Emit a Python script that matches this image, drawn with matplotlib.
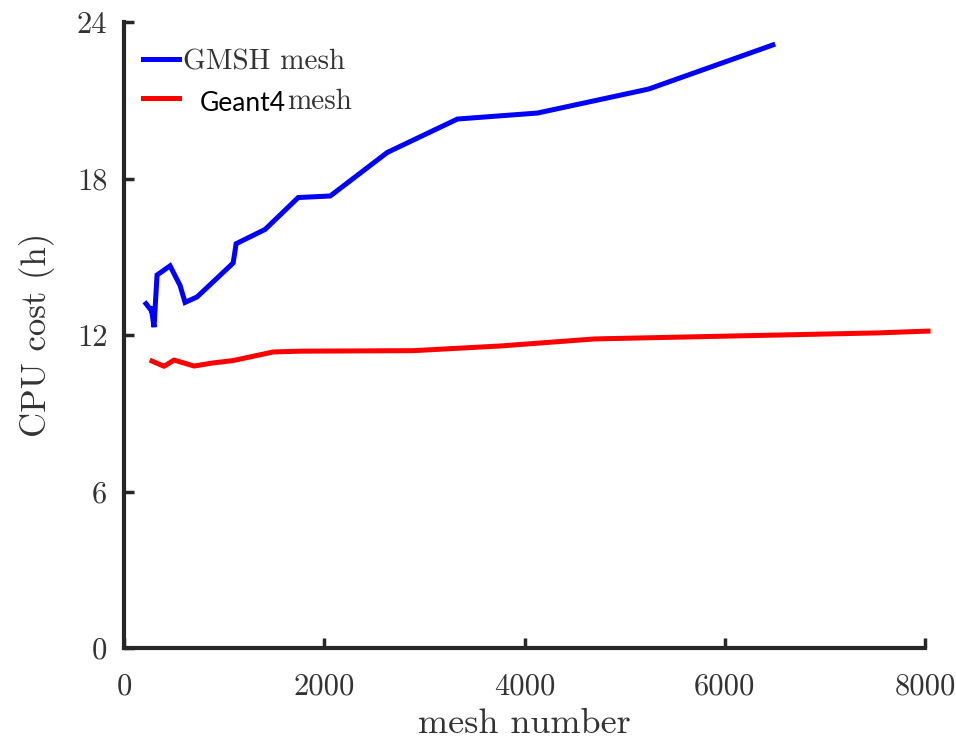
import matplotlib
matplotlib.use('Agg')
import matplotlib.pyplot as plt
from matplotlib.lines import Line2D

plt.rcParams['font.family'] = 'cmr10'
plt.rcParams['axes.formatter.use_mathtext'] = True

# GMSH mesh (blue)
gmsh_x = [220, 280, 270, 300, 330, 460, 560, 610, 730, 1090, 1120, 1410,
          1740, 2060, 2630, 3330, 4130, 5240, 6480]
gmsh_y = [13.2, 12.9, 13.1, 12.3, 14.3, 14.65, 13.9, 13.25, 13.46, 14.76, 15.5, 16.05,
          17.27, 17.33, 19.0, 20.28, 20.51, 21.43, 23.12]

# Geant4 mesh (red)
geant_x = [280, 400, 500, 700, 890, 1090, 1490, 1760, 2890, 3760, 4700, 7520, 8030]
geant_y = [11.0, 10.8, 11.04, 10.81, 10.93, 11.02, 11.35, 11.38, 11.40, 11.58, 11.85, 12.08, 12.15]

x_ticks = [0, 2000, 4000, 6000, 8000]
y_ticks = [0, 6, 12, 18, 24]

fig = plt.figure(figsize=(9.56, 7.41), dpi=100)
ax = fig.add_axes([0.1297, 0.1255, 0.8379, 0.8448])

ax.plot(gmsh_x, gmsh_y, color='#0000ff', lw=3.6, solid_joinstyle='miter', clip_on=False)
ax.plot(geant_x, geant_y, color='#ff0000', lw=3.6, clip_on=False)

ax.set_xlim(0, 8000)
ax.set_ylim(0, 24)
ax.set_xticks(x_ticks)
ax.set_yticks(y_ticks)
ax.set_xticklabels([str(v) for v in x_ticks])
ax.set_yticklabels([str(v) for v in y_ticks])

for s in ['top', 'right']:
    ax.spines[s].set_visible(False)
for s in ['left', 'bottom']:
    ax.spines[s].set_linewidth(3)
    ax.spines[s].set_color('#262626')
ax.tick_params(direction='in', length=7, width=2.5, color='#262626',
               labelsize=22, labelcolor='#333333', pad=12)
ax.tick_params(axis='x', pad=18)

ax.set_xlabel('mesh number', fontsize=26, color='#333333', labelpad=6)
ax.set_ylabel('CPU cost (h)', fontsize=25, color='#333333', labelpad=16)

# legend
handles = [Line2D([], [], color='#0000ff', lw=3.6), Line2D([], [], color='#ff0000', lw=3.6)]
leg = ax.legend(handles, ['GMSH mesh', ''], loc='upper left', bbox_to_anchor=(-0.002, 0.99),
                frameon=False, fontsize=21, handlelength=1.25, handletextpad=0.12,
                labelspacing=0.45, borderaxespad=0.3)
for t in leg.get_texts():
    t.set_color('#333333')
ax.text(0.095, 0.87, 'Geant4', transform=ax.transAxes, family=['Lato', 'DejaVu Sans'],
        fontsize=19, color='black', va='center', ha='left')
ax.text(0.2035, 0.873, 'mesh', transform=ax.transAxes, fontsize=21,
        color='#333333', va='center', ha='left')

fig.savefig('out.png', dpi=100)
